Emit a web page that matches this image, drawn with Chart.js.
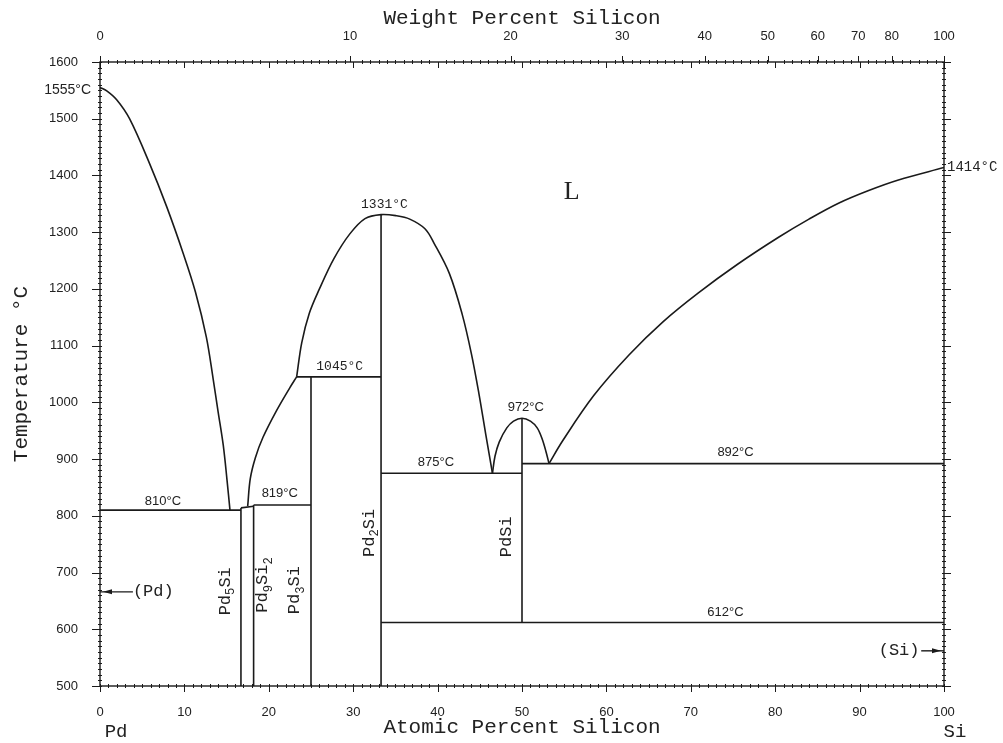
<!DOCTYPE html>
<html>
<head>
<meta charset="utf-8">
<title>Pd–Si phase diagram</title>
<script src="https://cdn.jsdelivr.net/npm/chart.js@4.4.1/dist/chart.umd.min.js"></script>
<style>
  html, body { margin: 0; padding: 0; background: #fff; overflow: hidden; }
  #wrap { width: 1003px; height: 743px; position: relative; }
</style>
</head>
<body>
<div id="wrap"><canvas id="c"></canvas></div>
<script>
// ---- phase boundaries: [atomic % Si, temperature °C] ----
const liquidusPd = [[0,1555],[0.8,1549],[2.0,1533],[3.5,1500],[5.9,1420],[7.9,1345],[9.85,1263],[11.3,1195],[12.6,1115],[13.4,1042],[14.0,983],[14.6,925],[15.05,863],[15.4,810]];
const liquidusPd3Si = [[17.5,817],[17.8,865],[18.4,902],[19.3,938],[20.9,985],[22.5,1026],[23.3,1045]];
const liquidusPd2Si = [[23.3,1045],[23.9,1105],[24.8,1157],[26.0,1200],[27.7,1253],[29.6,1297],[31.4,1324],[33.3,1331],[35.1,1329],[36.7,1323],[38.5,1306],[39.6,1280],[41.4,1227],[42.9,1156],[44.0,1086],[44.9,1015],[45.7,944],[46.5,875]];
const liquidusPdSi = [[46.5,875],[46.8,905],[47.3,930],[48.2,955],[49.0,967],[50,972],[51.0,967],[51.8,955],[52.4,935],[52.9,910],[53.2,892]];
const liquidusSi = [[53.2,892],[54.8,932],[58.5,1012],[62.7,1084],[66.7,1142],[70.9,1193],[75.5,1243],[80.4,1291],[84.0,1323],[87.5,1351],[91.0,1373],[94.6,1392],[100,1414]];

// invariant reactions (horizontal) and compounds (vertical)
const isotherms = [
  [[0,810],[16.7,810]],
  [[16.7,814],[18.2,817]],
  [[18.2,819],[25,819]],
  [[23.3,1045],[33.3,1045]],
  [[33.3,875],[50,875]],
  [[50,892],[100,892]],
  [[33.3,612],[100,612]]
];
const compounds = [
  [[16.7,500],[16.7,814]],
  [[18.2,500],[18.2,819]],
  [[25,500],[25,1045]],
  [[33.3,500],[33.3,1331]],
  [[50,612],[50,972]]
];

// axis ticks
const yTicksStep = 100;
const xTicksStep = 10;
const wtTicks = [0,10,20,30,40,50,60,70,80,100];

// annotations: text, atomic %, temperature
const tempLabels = [
  ['1331°C', 33.7, 1348, 'mono'],
  ['1045°C', 28.4, 1063, 'mono'],
  ['972°C', 50.45, 991, 'sans'],
  ['875°C', 39.8, 895, 'sans'],
  ['892°C', 75.3, 912, 'sans'],
  ['612°C', 74.1, 629, 'sans'],
  ['810°C', 7.45, 825, 'sans'],
  ['819°C', 21.3, 840, 'sans']
];
const phaseLabels = [
  ['Pd5Si', 14.9, 667],
  ['Pd9Si2', 19.3, 678],
  ['Pd3Si', 23.1, 669],
  ['Pd2Si', 31.9, 770],
  ['PdSi', 48.2, 763]
];

const M_PD = 106.42, M_SI = 28.086;
function wtToAt(w) {
  if (w <= 0) return 0;
  if (w >= 100) return 100;
  const a = w / M_SI, b = (100 - w) / M_PD;
  return 100 * a / (a + b);
}

const toXY = arr => arr.map(p => ({x: p[0], y: p[1]}));
const INK = '#1a1a1a';
const MONO = '"Liberation Mono", "DejaVu Sans Mono", monospace';
const SANS = '"Liberation Sans", Arial, sans-serif';
const SERIF = '"Liberation Serif", "DejaVu Serif", serif';

const datasets = [];
[liquidusPd, liquidusPd3Si, liquidusPd2Si, liquidusPdSi, liquidusSi].forEach(c => {
  datasets.push({data: toXY(c), showLine: true, borderColor: INK, borderWidth: 1.6,
    pointRadius: 0, tension: 0.35, fill: false});
});
isotherms.concat(compounds).forEach(s => {
  datasets.push({data: toXY(s), showLine: true, borderColor: INK, borderWidth: 1.6,
    pointRadius: 0, tension: 0, fill: false});
});

function drawRich(ctx, str, x, y, angle, size, family) {
  const parts = str.split(/(\d+)/).filter(s => s.length).map(s => ({t: s, sub: /^\d+$/.test(s)}));
  const sub = size * 0.72;
  ctx.save();
  ctx.translate(x, y);
  ctx.rotate(angle);
  let total = 0;
  parts.forEach(p => { ctx.font = (p.sub ? sub : size) + 'px ' + family; p.w = ctx.measureText(p.t).width; total += p.w; });
  let cx = -total / 2;
  ctx.textBaseline = 'middle';
  ctx.textAlign = 'left';
  parts.forEach(p => {
    ctx.font = (p.sub ? sub : size) + 'px ' + family;
    ctx.fillText(p.t, cx, p.sub ? size * 0.32 : 0);
    cx += p.w;
  });
  ctx.restore();
}

const framePlugin = {
  id: 'frameAndNotes',
  afterDatasetsDraw(chart) {
    const {ctx, chartArea: a, scales} = chart;
    const xs = scales.x, ys = scales.y;
    ctx.save();
    ctx.strokeStyle = INK;
    ctx.lineWidth = 1.4;
    ctx.strokeRect(a.left, a.top, a.right - a.left, a.bottom - a.top);

    ctx.lineWidth = 1;
    ctx.beginPath();
    // temperature ticks on both sides
    for (let t = 500; t <= 1600; t += 10) {
      const py = Math.round(ys.getPixelForValue(t)) + 0.5;
      const major = t % yTicksStep === 0;
      if (major) {
        ctx.moveTo(a.left - 8, py); ctx.lineTo(a.left + 2, py);
        ctx.moveTo(a.right - 2, py); ctx.lineTo(a.right + 7, py);
      } else {
        ctx.moveTo(a.left - 2, py); ctx.lineTo(a.left + 2, py);
        ctx.moveTo(a.right - 2, py); ctx.lineTo(a.right + 2, py);
      }
    }
    // atomic percent ticks, bottom and top
    for (let v = 0; v <= 100; v += 1) {
      const px = Math.round(xs.getPixelForValue(v)) + 0.5;
      const major = v % xTicksStep === 0;
      if (major) {
        ctx.moveTo(px, a.bottom - 2); ctx.lineTo(px, a.bottom + 6);
        ctx.moveTo(px, a.top); ctx.lineTo(px, a.top + 6);
      } else {
        ctx.moveTo(px, a.bottom - 2); ctx.lineTo(px, a.bottom + 2);
        ctx.moveTo(px, a.top - 2); ctx.lineTo(px, a.top + 2);
      }
    }
    // weight percent ticks on top
    wtTicks.forEach(w => {
      const px = Math.round(xs.getPixelForValue(wtToAt(w))) + 0.5;
      ctx.moveTo(px, a.top - 6); ctx.lineTo(px, a.top);
    });
    ctx.stroke();

    // arrows for terminal solid solutions
    const arrow = (x0, x1, t) => {
      const py = ys.getPixelForValue(t);
      const p0 = xs.getPixelForValue(x0), p1 = xs.getPixelForValue(x1);
      ctx.lineWidth = 1.4;
      ctx.beginPath(); ctx.moveTo(p0, py); ctx.lineTo(p1, py); ctx.stroke();
      const dir = Math.sign(p1 - p0);
      const hx = p1 - dir * 3;
      ctx.beginPath();
      ctx.moveTo(hx, py);
      ctx.lineTo(hx - dir * 9, py - 2.5);
      ctx.lineTo(hx - dir * 9, py + 2.5);
      ctx.closePath(); ctx.fill();
    };
    ctx.fillStyle = INK;
    arrow(3.9, 0, 666);
    arrow(97.3, 100, 562);

    // text annotations
    ctx.fillStyle = '#222';
    ctx.textBaseline = 'middle';
    tempLabels.forEach(([txt, x, t, kind]) => {
      ctx.font = kind === 'mono' ? '13px ' + MONO : '13px ' + SANS;
      ctx.textAlign = 'center';
      ctx.fillText(txt, xs.getPixelForValue(x), ys.getPixelForValue(t));
    });
    ctx.font = '14px ' + SANS;
    ctx.textAlign = 'right';
    ctx.fillText('1555°C', a.left - 9, ys.getPixelForValue(1551));
    ctx.font = '14px ' + MONO;
    ctx.textAlign = 'left';
    ctx.fillText('1414°C', a.right + 3, ys.getPixelForValue(1415));

    ctx.font = '17px ' + MONO;
    ctx.textAlign = 'left';
    ctx.fillText('(Pd)', xs.getPixelForValue(3.9), ys.getPixelForValue(666));
    ctx.textAlign = 'right';
    ctx.fillText('(Si)', xs.getPixelForValue(97.1), ys.getPixelForValue(563));

    ctx.font = '26px ' + SERIF;
    ctx.textAlign = 'center';
    ctx.fillText('L', xs.getPixelForValue(55.9), ys.getPixelForValue(1370));

    phaseLabels.forEach(([txt, x, t]) => {
      drawRich(ctx, txt, xs.getPixelForValue(x), ys.getPixelForValue(t), -Math.PI / 2, 17, MONO);
    });

    // end-member names under the composition axis
    ctx.font = '19px ' + MONO;
    ctx.textAlign = 'center';
    ctx.fillText('Pd', xs.getPixelForValue(1.9), 732);
    ctx.fillText('Si', xs.getPixelForValue(101.3), 732);
    ctx.restore();
  }
};

Chart.defaults.font.family = SANS;
Chart.defaults.color = '#222';

new Chart(document.getElementById('c'), {
  type: 'scatter',
  data: {datasets},
  options: {
    responsive: true,
    maintainAspectRatio: false,
    animation: false,
    layout: {padding: {left: 0, right: 59, top: 0, bottom: 0}},
    plugins: {legend: {display: false}, tooltip: {enabled: false}},
    scales: {
      x: {
        type: 'linear', position: 'bottom', min: 0, max: 100,
        grid: {display: false}, border: {display: false},
        ticks: {stepSize: xTicksStep, autoSkip: false, maxRotation: 0, minRotation: 0,
                padding: 11, font: {size: 13}, callback: v => String(v)},
        title: {display: true, text: 'Atomic Percent Silicon', font: {family: MONO, size: 21},
                padding: {top: 0, bottom: 3}, color: '#222'},
        afterFit: s => { s.height = 57; }
      },
      xTop: {
        type: 'linear', position: 'top', min: 0, max: 100,
        grid: {display: false}, border: {display: false},
        afterBuildTicks: s => { s.ticks = wtTicks.map(w => ({value: wtToAt(w)})); },
        ticks: {autoSkip: false, maxRotation: 0, minRotation: 0, padding: 10, font: {size: 13},
                callback: (v, i) => String(wtTicks[i])},
        title: {display: true, text: 'Weight Percent Silicon', font: {family: MONO, size: 21},
                padding: {top: 6, bottom: 0}, color: '#222'},
        afterFit: s => { s.height = 62; }
      },
      y: {
        type: 'linear', position: 'left', min: 500, max: 1600,
        grid: {display: false}, border: {display: false},
        ticks: {stepSize: yTicksStep, padding: 14, font: {size: 13}, callback: v => String(v)},
        title: {display: true, text: 'Temperature °C', font: {family: MONO, size: 21},
                padding: {top: 9, bottom: 0}, color: '#222'},
        afterFit: s => { s.width = 100; }
      }
    }
  },
  plugins: [framePlugin]
});
</script>
</body>
</html>
